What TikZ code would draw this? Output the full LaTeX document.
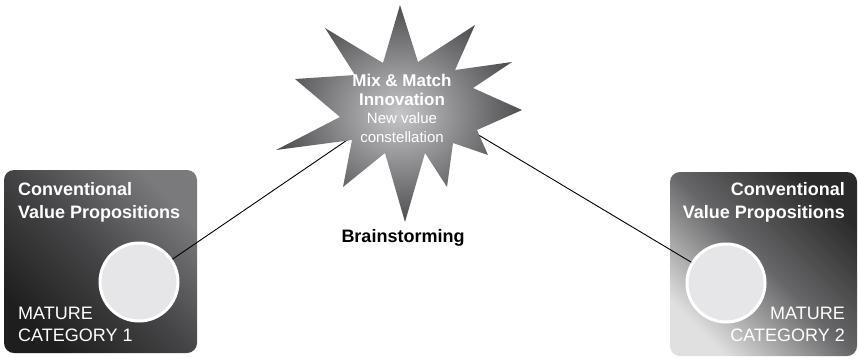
\documentclass[tikz,border=0pt]{standalone}
\usepackage{fontspec}
\setmainfont{Liberation Sans}
\begin{document}
\begin{tikzpicture}[x=1pt,y=-1pt,
  catbox/.style={rounded corners=10pt, inner sep=0pt},
  leftbox/.style={catbox, top color=boxlight, bottom color=boxdark, middle color=boxmid, shading angle=-45},
  rightbox/.style={catbox, top color=rdark, bottom color=rlight, middle color=rmid, shading angle=-45},
  disc/.style={circle, fill=discfill, draw=white, line width=3pt, minimum size=78pt, inner sep=0pt},
  headtxt/.style={text=white, font=\bfseries\fontsize{18}{23}\selectfont, inner sep=0pt},
  cattxt/.style={text=white, font=\fontsize{18}{22}\selectfont, inner sep=0pt},
  startxt/.style={text=white, font=\fontsize{15}{18.6}\selectfont, inner sep=0pt, align=center},
  link/.style={draw=black, line width=0.9pt}
]
\definecolor{boxlight}{HTML}{7A7A7D}
\definecolor{boxmid}{HTML}{444446}
\definecolor{boxdark}{HTML}{1E1E1E}
\definecolor{rdark}{HTML}{2A2A2A}
\definecolor{rmid}{HTML}{676769}
\definecolor{rlight}{HTML}{E0E0E0}
\definecolor{discfill}{HTML}{E6E6E8}
\definecolor{starin}{HTML}{C6C6C8}
\definecolor{starout}{HTML}{4E4E50}
\useasboundingbox (0,0) rectangle (858,357);

% category boxes
\node[leftbox, minimum width=193pt, minimum height=183pt] (boxL) at (100.5,261.5) {};
\node[rightbox, minimum width=187pt, minimum height=184pt] (boxR) at (763.5,264) {};

% circles
\node[disc] (c1) at (139,282) {};
\node[disc] (c2) at (726,283) {};

% hub targets inside the star
\coordinate (hubL) at (400,104);
\coordinate (hubR) at (400,88);
\draw[link] (c1) -- (hubL);
\draw[link] (c2) -- (hubR);

% star
\shade[inner color=starin, outer color=starout]
  (400,5) -- (418,62) -- (475,25) -- (455,70) -- (512,62) -- (473,88)
  -- (522,110) -- (477,130) -- (488,155) -- (453,143) -- (447,187)
  -- (425,153) -- (405,222) -- (385,153) -- (343,187) -- (352,140)
  -- (276,150) -- (340,117) -- (295,79) -- (355,75) -- (325,28)
  -- (383,63) -- cycle;

% texts
\node[headtxt, anchor=north west, align=left] (hL) at (18,182) {Conventional\\Value Propositions};
\node[cattxt, anchor=north west, align=left] (mL) at (18,307) {MATURE\\CATEGORY 1};
\node[headtxt, anchor=north east, align=right] (hR) at (845,182) {Conventional\\Value Propositions};
\node[cattxt, anchor=north east, align=right] (mR) at (845,307) {MATURE\\CATEGORY 2};

\node[startxt, anchor=north] (st) at (402,74)
  {{\bfseries\fontsize{17}{18.6}\selectfont Mix \& Match}\\{\bfseries\fontsize{17}{18.6}\selectfont Innovation}\\New value\\constellation};

\node[font=\bfseries\fontsize{18}{22}\selectfont, inner sep=0pt, anchor=base] (bs) at (403,242) {Brainstorming};
\end{tikzpicture}
\end{document}
